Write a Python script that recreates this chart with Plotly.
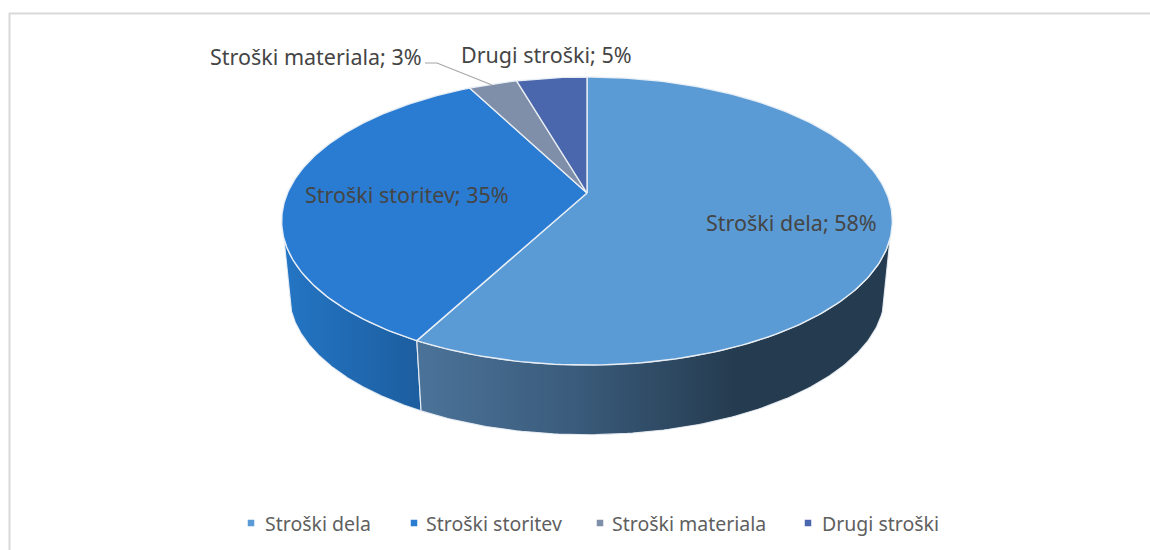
import numpy as np
import plotly.graph_objects as go

CATEGORIES = ["Stroški dela", "Stroški storitev", "Stroški materiala", "Drugi stroški"]
SHARES = [57.8, 34.6, 3.1, 4.5]
PERCENT_LABELS = [58, 35, 3, 5]
COLORS = ["#5B9BD5", "#2A7CD3", "#7F8FA9", "#4A66AC"]

FONT = "Noto Sans"
W, H = 1150, 550
CX, CY = 587.0, 193.0
RX, RY, K = 299.5, 138.6, 0.1945
DEPTH, BOTTOM_SCALE = 74.0, 0.975
VIS_FROM, VIS_TO = 108.0, 252.0


def rim(theta_deg, bottom=False):
    t = np.radians(theta_deg)
    xx, yy = np.sin(t), np.cos(t)
    w = 1 + K * yy
    s = BOTTOM_SCALE if bottom else 1.0
    return CX + s * RX * xx / w, CY - s * RY * yy / w + (DEPTH if bottom else 0.0)


total = sum(SHARES)
edges = np.concatenate([[0.0], np.cumsum(SHARES) / total * 360.0])

fig = go.Figure()

# side walls
WALL_STYLES = {
    0: dict(start=417, stop=735, stops=[[0, "#4B7399"], [0.5, "#3A5B7B"], [1, "#253C50"]]),
    1: dict(start=285, stop=425, stops=[[0, "#2475C4"], [1, "#1C5D9E"]]),
}
for i in range(len(CATEGORIES) - 1, -1, -1):
    a0 = max(edges[i], VIS_FROM)
    a1 = min(edges[i + 1], VIS_TO)
    if a1 <= a0 or i not in WALL_STYLES:
        continue
    th = np.linspace(a0, a1, 120)
    xt, yt = rim(th)
    xb, yb = rim(th[::-1], bottom=True)
    st = WALL_STYLES[i]
    fig.add_trace(go.Scatter(
        x=np.concatenate([xt, xb, xt[:1]]), y=np.concatenate([yt, yb, yt[:1]]),
        mode="lines", fill="toself", line=dict(color="rgba(235,240,245,0.9)", width=1.2),
        fillgradient=dict(type="horizontal", start=st["start"], stop=st["stop"], colorscale=st["stops"]),
        showlegend=False, hoverinfo="skip"))

# top face
for i, name in enumerate(CATEGORIES):
    th = np.linspace(edges[i], edges[i + 1], 200)
    x, y = rim(th)
    fig.add_trace(go.Scatter(
        x=np.concatenate([[CX], x, [CX]]), y=np.concatenate([[CY], y, [CY]]),
        mode="lines", fill="toself", fillcolor=COLORS[i],
        line=dict(color="rgba(235,240,245,0.95)", width=1.4),
        name=name, showlegend=False, hoverinfo="name"))

# leader line
fig.add_trace(go.Scatter(x=[425, 437, 492], y=[63, 63, 85], mode="lines",
                         line=dict(color="#A6A6A6", width=1.2), showlegend=False, hoverinfo="skip"))

# legend (marker + text)
LEGEND_MARKER_X = [251, 414, 600, 808]
LEGEND_TEXT_X = [262.5, 423.5, 609.5, 819.5]
for i, name in enumerate(CATEGORIES):
    fig.add_trace(go.Scatter(
        x=[LEGEND_MARKER_X[i]], y=[523], mode="markers",
        marker=dict(symbol="square", size=6.5, color=COLORS[i]),
        name=name, showlegend=False, hoverinfo="name"))

LABEL_POS = [(791, 222), (407, 194), (316, 56), (546, 54)]
annotations = [
    dict(x=px, y=py, xref="x", yref="y", showarrow=False, xanchor="center", yanchor="middle",
         text=f"{n}; {p}%", font=dict(family=FONT, size=21.5, color="#454545"))
    for n, p, (px, py) in zip(CATEGORIES, PERCENT_LABELS, LABEL_POS)
]
annotations += [
    dict(x=tx, y=523, xref="x", yref="y", showarrow=False, xanchor="left", yanchor="middle",
         text=n, font=dict(family=FONT, size=19.5, color="#5F5F5F"))
    for n, tx in zip(CATEGORIES, LEGEND_TEXT_X)
]

fig.update_layout(
    width=W, height=H, autosize=False,
    margin=dict(l=0, r=0, t=0, b=0),
    paper_bgcolor="white", plot_bgcolor="white",
    showlegend=False,
    xaxis=dict(range=[0, W], visible=False, fixedrange=True),
    yaxis=dict(range=[H, 0], visible=False, fixedrange=True),
    annotations=annotations,
    shapes=[
        dict(type="line", x0=9, y0=13.5, x1=W, y1=13.5, line=dict(color="#D9D9D9", width=2), layer="below"),
        dict(type="line", x0=9.5, y0=13, x1=9.5, y1=H, line=dict(color="#D9D9D9", width=2), layer="below"),
    ],
)
fig.write_html("out.html", config={"displayModeBar": False},
               post_script="document.body.style.margin='0';document.body.style.overflow='hidden';")
